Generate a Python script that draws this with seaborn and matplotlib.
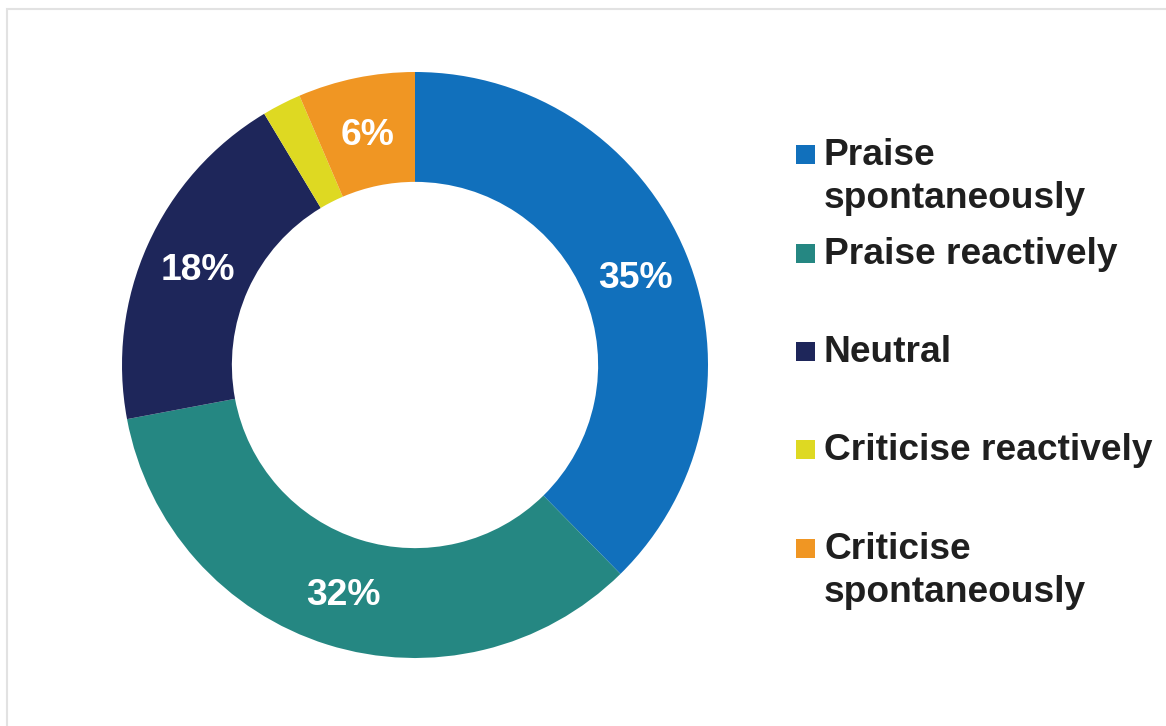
import matplotlib
matplotlib.use("Agg")
import matplotlib.pyplot as plt
from matplotlib.patches import Rectangle
import numpy as np
import seaborn as sns

# Response categories and their shares (%)
categories = ["Praise\nspontaneously", "Praise reactively", "Neutral",
              "Criticise reactively", "Criticise\nspontaneously"]
shares = [35, 32, 18, 2, 6]
pct_labels = ["35%", "32%", "18%", "", "6%"]
colors = ["#1170BC", "#258782", "#1E265A", "#DED922", "#F09623"]

sns.set_theme(style="white")
plt.rcParams["font.family"] = ["Liberation Sans", "DejaVu Sans"]
palette = sns.color_palette(colors)

W, H = 1166, 726
fig = plt.figure(figsize=(W / 100, H / 100), dpi=100)
fig.patch.set_facecolor("white")

# light frame along the top and left edges
fig.patches.append(Rectangle((7 / W, -0.05), 1.2, 1 - 9 / H + 0.05,
                             transform=fig.transFigure, fill=False,
                             edgecolor="#E2E2E2", linewidth=1.5))

# donut axes: centre (415, 365) px from top-left, outer radius 293 px
cx, cy, r = 415, 365, 293
ax = fig.add_axes([(cx - r) / W, (H - cy - r) / H, 2 * r / W, 2 * r / H])
wedges, _ = ax.pie(shares, colors=palette, startangle=90, counterclock=False,
                   radius=1.0, wedgeprops=dict(width=0.375, linewidth=0))
ax.set_xlim(-1, 1)
ax.set_ylim(-1, 1)
ax.set_aspect("equal")
ax.axis("off")

# percentage labels at the middle of the ring
total = sum(shares)
start = 90.0
for val, lab in zip(shares, pct_labels):
    span = 360.0 * val / total
    mid = np.deg2rad(start - span / 2)
    start -= span
    if lab:
        rr = 0.8125
        ax.text(rr * np.cos(mid), rr * np.sin(mid) - 0.012, lab, ha="center",
                va="center", color="white", fontsize=26.8, fontweight="bold")

# legend drawn as squares with labels (one text per line)
sq = 19
line_gap = 43
y_centres = [154, 253, 351, 449, 548]
for cat, col, yc in zip(categories, palette, y_centres):
    fig.patches.append(Rectangle((796 / W, (H - yc - sq / 2) / H), sq / W, sq / H,
                                 transform=fig.transFigure, facecolor=col,
                                 edgecolor="none"))
    for i, line in enumerate(cat.split("\n")):
        base = yc + 11 + i * line_gap
        fig.text(824 / W, (H - base) / H, line, ha="left", va="baseline",
                 fontsize=26.7, fontweight="bold", color="#1F1F1F")

fig.savefig("out.png", dpi=100, facecolor="white")
